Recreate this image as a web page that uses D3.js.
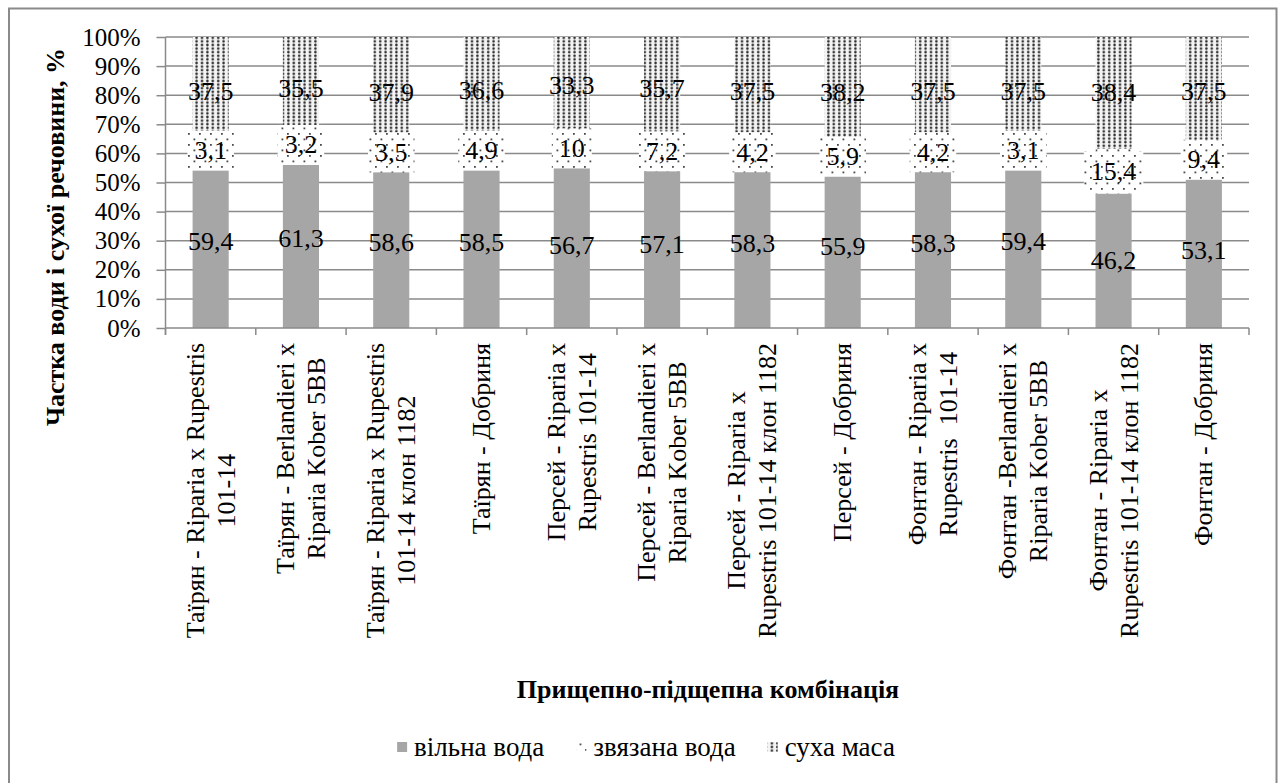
<!DOCTYPE html>
<html>
<head>
<meta charset="utf-8">
<script src="https://cdn.jsdelivr.net/npm/d3@7/dist/d3.min.js"></script>
<style>
  body { margin: 0; background: #fff; }
  svg { display: block; }
  svg text { font-family: "Liberation Serif", "Times New Roman", serif; fill: #000; }
</style>
</head>
<body>
<svg id="chart" width="1278" height="783"></svg>
<script>
// Graft / rootstock combinations (line breaks as in the axis labels)
const categories = [
  "Таїрян - Riparia x Rupestris\n101-14",
  "Таїрян - Berlandieri x\nRiparia Kober 5BB",
  "Таїрян - Riparia x Rupestris\n101-14 клон 1182",
  "Таїрян - Добриня",
  "Персей - Riparia x\nRupestris 101-14",
  "Персей - Berlandieri x\nRiparia Kober 5BB",
  "Персей - Riparia x\nRupestris 101-14 клон 1182",
  "Персей - Добриня",
  "Фонтан - Riparia x\nRupestris  101-14",
  "Фонтан -Berlandieri x\nRiparia Kober 5BB",
  "Фонтан - Riparia x\nRupestris 101-14 клон 1182",
  "Фонтан - Добриня"
];

// Shares, %
const freeWater  = [59.4, 61.3, 58.6, 58.5, 56.7, 57.1, 58.3, 55.9, 58.3, 59.4, 46.2, 53.1];
const boundWater = [3.1, 3.2, 3.5, 4.9, 10, 7.2, 4.2, 5.9, 4.2, 3.1, 15.4, 9.4];
const dryMass    = [37.5, 35.5, 37.9, 36.6, 33.3, 35.7, 37.5, 38.2, 37.5, 37.5, 38.4, 37.5];

const seriesNames = ["вільна вода", "звязана вода", "суха маса"];
const yTicks = [0, 0.1, 0.2, 0.3, 0.4, 0.5, 0.6, 0.7, 0.8, 0.9, 1];

const yTitle = "Частка води і сухої речовини, %";
const xTitle = "Прищепно-підщепна комбінація";

const rows = categories.map((c, i) => ({
  free: freeWater[i], bound: boundWater[i], dry: dryMass[i]
}));
const keys = ["free", "bound", "dry"];
const FONT = "'Liberation Serif', 'Times New Roman', serif";

const svg = d3.select("#chart");
const defs = svg.append("defs");

// sparse dots (bound water)
const pSparse = defs.append("pattern").attr("id", "sparse")
  .attr("patternUnits", "userSpaceOnUse").attr("width", 11).attr("height", 11);
pSparse.append("rect").attr("width", 11).attr("height", 11).attr("fill", "#fff");
pSparse.append("rect").attr("x", 1).attr("y", 1).attr("width", 1.8).attr("height", 1.8).attr("fill", "#4a4a4a");
pSparse.append("rect").attr("x", 6.5).attr("y", 6.5).attr("width", 1.8).attr("height", 1.8).attr("fill", "#4a4a4a");

// dense dots (dry mass)
const pDense = defs.append("pattern").attr("id", "dense")
  .attr("patternUnits", "userSpaceOnUse").attr("width", 5.4).attr("height", 3.6);
pDense.append("rect").attr("width", 5.4).attr("height", 3.6).attr("fill", "#f4f4f4");
pDense.append("circle").attr("cx", 2.2).attr("cy", 1.8).attr("r", 1.25).attr("fill", "#2a2a2a");

const fills = { free: "#a6a6a6", bound: "url(#sparse)", dry: "url(#dense)" };

// chart frame
svg.append("rect").attr("x", 9).attr("y", 8.5).attr("width", 1267.5).attr("height", 800)
  .attr("fill", "#fff").attr("stroke", "#8a8a8a").attr("stroke-width", 2);

const x = d3.scaleBand().domain(d3.range(categories.length)).range([165.5, 1249]);
const y = d3.scaleLinear().domain([0, 1]).range([328, 37]);
const barW = x.bandwidth() * 0.4;
const gridColor = "#8a8a8a";

// horizontal gridlines
svg.append("g").selectAll("line").data(yTicks.filter(t => t > 0)).join("line")
  .attr("x1", 165.5).attr("x2", 1249)
  .attr("y1", d => y(d)).attr("y2", d => y(d))
  .attr("stroke", gridColor).attr("stroke-width", 1.5);

// y axis
const yAxis = d3.axisLeft(y).tickValues(yTicks).tickFormat(d3.format(".0%"))
  .tickSize(9).tickPadding(16);
const gy = svg.append("g").attr("transform", "translate(165.5,0)").call(yAxis)
  .attr("font-family", FONT);
gy.select(".domain").attr("stroke", gridColor).attr("stroke-width", 1.5)
  .attr("d", `M0,${y(1)}V${y(0) + 7}`);
gy.selectAll(".tick line").attr("stroke", gridColor).attr("stroke-width", 1.5);
gy.selectAll(".tick text").attr("font-size", 25).attr("fill", "#000");

// stacked bars
const stack = d3.stack().keys(keys).offset(d3.stackOffsetExpand);
const layers = stack(rows);

const gBars = svg.append("g");
layers.forEach(layer => {
  gBars.append("g").selectAll("rect").data(layer).join("rect")
    .attr("x", (d, i) => x(i) + (x.bandwidth() - barW) / 2)
    .attr("width", barW)
    .attr("y", d => y(d[1]))
    .attr("height", d => y(d[0]) - y(d[1]))
    .attr("fill", fills[layer.key]);
});

// x axis line and ticks
svg.append("line").attr("x1", 165.5).attr("x2", 1249).attr("y1", y(0)).attr("y2", y(0))
  .attr("stroke", gridColor).attr("stroke-width", 1.5);
const bounds = d3.range(categories.length + 1).map(i => 165.5 + i * x.step());
svg.append("g").selectAll("line").data(bounds).join("line")
  .attr("x1", d => d).attr("x2", d => d).attr("y1", y(0)).attr("y2", y(0) + 7)
  .attr("stroke", gridColor).attr("stroke-width", 1.5);

const fmt = v => String(v).replace(".", ",");

// data labels
const gLab = svg.append("g");
layers.forEach(layer => {
  const key = layer.key;
  layer.forEach((d, i) => {
    const cx = x(i) + x.bandwidth() / 2;
    const cy = y((d[0] + d[1]) / 2);
    const t = gLab.append("text")
      .attr("x", cx).attr("y", cy)
      .attr("text-anchor", "middle").attr("dominant-baseline", "central")
      .style("font-family", FONT)
      .attr("font-size", 26).text(fmt(rows[i][key]));
    if (key === "bound") {
      const w = t.node().getComputedTextLength() + 14;
      gLab.insert("rect", () => t.node())
        .attr("x", cx - w / 2).attr("y", cy - 20)
        .attr("width", w).attr("height", 40)
        .attr("fill", "url(#sparse)");
    }
  });
});

// category labels (rotated, lines centred within each block)
const lineGap = 31;
categories.forEach((c, i) => {
  const lines = c.split("\n");
  const g = svg.append("g")
    .attr("transform", `translate(${x(i) + x.bandwidth() / 2},343) rotate(-90)`);
  const ts = lines.map((ln, k) => g.append("text")
    .attr("y", (k - (lines.length - 1) / 2) * lineGap)
    .attr("text-anchor", "middle").attr("dominant-baseline", "central")
    .style("font-family", FONT)
    .attr("font-size", 26).attr("xml:space", "preserve").text(ln));
  const maxLen = d3.max(ts, t => t.node().getComputedTextLength());
  ts.forEach(t => t.attr("x", -maxLen / 2));
});

// axis titles
svg.append("text")
  .attr("transform", "translate(55,237) rotate(-90)")
  .attr("text-anchor", "middle").attr("dominant-baseline", "central")
  .style("font-family", FONT)
  .attr("font-size", 26).attr("font-weight", "bold").text(yTitle);

svg.append("text")
  .attr("x", 708).attr("y", 689)
  .attr("text-anchor", "middle").attr("dominant-baseline", "central")
  .style("font-family", FONT)
  .attr("font-size", 26).attr("font-weight", "bold").text(xTitle);

// legend: marker, text, gap; the whole row centred under the chart
const legendFills = [fills.free, fills.bound, fills.dry];
const ly = 747;
const gLeg = svg.append("g");
let lx = 0;
seriesNames.forEach((name, k) => {
  gLeg.append("rect").attr("x", lx).attr("y", ly - 5).attr("width", 10).attr("height", 10)
    .attr("fill", legendFills[k]);
  const t = gLeg.append("text").attr("x", lx + 17).attr("y", ly)
    .attr("dominant-baseline", "central")
    .style("font-family", FONT)
    .attr("font-size", 27).text(name);
  lx += 17 + t.node().getComputedTextLength() + (k < seriesNames.length - 1 ? 32 : 0);
});
gLeg.attr("transform", `translate(${646 - lx / 2},0)`);
</script>
</body>
</html>
